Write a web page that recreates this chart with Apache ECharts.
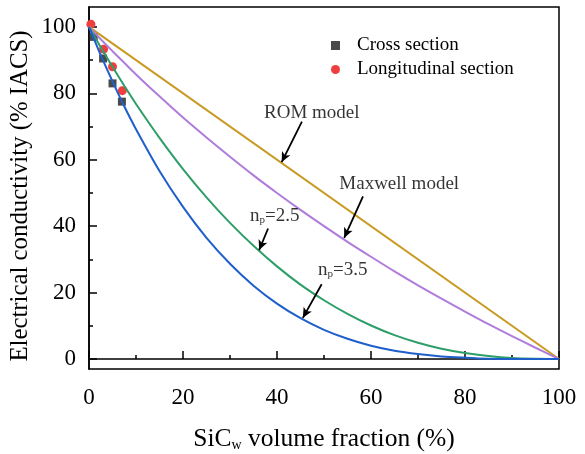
<!DOCTYPE html>
<html>
<head>
<meta charset="utf-8">
<script src="https://cdn.jsdelivr.net/npm/echarts@6/dist/echarts.min.js"></script>
<style>html,body{margin:0;padding:0;background:#fff;}#c{width:585px;height:454px;}</style>
</head>
<body>
<div id="c"></div>
<script>
// x positions (SiCw volume fraction, %) for model curves
var xModel = [0,2.5,5,7.5,10,15,20,25,30,35,40,45,50,55,60,65,70,75,80,85,90,95,100];
var romX = [0,100];
var romY = [100,0];
var maxwellY = [100,96.3,92.7,89.2,85.7,79.1,72.7,66.7,60.9,55.3,50,44.9,40,35.3,30.8,26.4,22.2,18.2,14.3,10.5,6.9,3.4,0];
var np25Y = [100,93.9,88.0,82.3,76.8,66.6,57.2,48.7,41.0,34.1,27.9,22.4,17.7,13.6,10.1,7.2,4.9,3.1,1.8,0.9,0.3,0.06,0];
var np35Y = [100,91.5,83.6,76.1,69.2,56.6,45.8,36.5,28.7,22.1,16.7,12.3,8.8,6.1,4.0,2.5,1.5,0.8,0.4,0.1,0,0,0];
// measured points
var crossX = [1,3,5,7];
var crossY = [97.0,90.5,83.0,77.5];
var longX = [0.4,3.1,5.0,7.1];
var longY = [100.8,93.3,88.0,80.8];
// tick labels
var xTicks = [0,20,40,60,80,100];
var yTicks = [0,20,40,60,80,100];
var yMinorTicks = [10,30,50,70,90];
// annotations
var annNames = ['ROM model','Maxwell model','np=2.5','np=3.5'];
var annLabelX = [47.4,66.0,39.5,54.0];
var annLabelY = [74.0,52.6,43.0,26.8];
var annStartX = [45.3,58.3,38.1,49.5];
var annStartY = [71.5,49.0,39.3,22.5];
var annTipX = [41.0,54.3,36.2,45.5];
var annTipY = [59.3,36.5,32.8,12.4];

function zip(xs, ys){ return xs.map(function(x,i){ return [x, ys[i]]; }); }

var FONT = "'Liberation Serif','Times New Roman',serif";
var chart = echarts.init(document.getElementById('c'), null, {renderer:'canvas'});

var annData = annNames.map(function(n,i){ return {name:n, value:[annLabelX[i], annLabelY[i]]}; });
var arrowData = annNames.map(function(n,i){
  return [{coord:[annStartX[i], annStartY[i]]},{coord:[annTipX[i], annTipY[i]]}];
});

var option = {
  animation: false,
  backgroundColor: '#fff',
  grid: {left: 89, right: 26, top: 7, bottom: 85, containLabel: false, outerBoundsMode: 'none',
    show: true, borderColor: '#000', borderWidth: 1.5, backgroundColor: 'transparent'},
  legend: {
    data: [{name:'Cross section', icon:'rect'}, {name:'Longitudinal section', icon:'circle'}],
    orient: 'vertical', left: 326, top: 31, itemWidth: 9, itemHeight: 9, itemGap: 5,
    textStyle: {fontFamily: FONT, fontSize: 19, color: '#000', padding: [0,0,0,12]}
  },
  xAxis: {
    type: 'value', min: 0, max: 100, interval: 20,
    axisLine: {show: true, lineStyle: {color: '#000', width: 1.5}},
    axisTick: {show: true, inside: true, length: 8, lineStyle: {color: '#000', width: 1.5}},
    minorTick: {show: true, splitNumber: 2, length: 4, lineStyle: {color: '#000', width: 1.5}},
    axisLabel: {fontFamily: FONT, fontSize: 23, color: '#000', margin: 17,
      formatter: function(v){ return xTicks.indexOf(v) >= 0 ? String(v) : ''; }},
    splitLine: {show: false},
    name: '{a|SiC}{s|w}{a| volume fraction (%)}',
    nameLocation: 'middle', nameGap: 57, nameMoveOverlap: false,
    nameTextStyle: {fontFamily: FONT, fontSize: 25.5, color: '#000',
      rich: {a: {fontFamily: FONT, fontSize: 25.5, color: '#000'}, s: {fontFamily: FONT, fontSize: 14, color: '#000', verticalAlign: 'bottom', padding:[9,0,0,0]}}}
  },
  yAxis: [{
    type: 'value', min: -3, max: 106,
    axisLine: {show: true, lineStyle: {color: '#000', width: 1.5}},
    axisTick: {show: true, inside: true, length: 8, customValues: yTicks, lineStyle: {color: '#000', width: 1.5}},
    axisLabel: {fontFamily: FONT, fontSize: 23, color: '#000', margin: 13, customValues: yTicks},
    splitLine: {show: false},
    name: 'Electrical conductivity (% IACS)',
    nameLocation: 'middle', nameGap: 56, nameMoveOverlap: false,
    nameTextStyle: {fontFamily: FONT, fontSize: 24.8, color: '#000', padding: [0,16,0,0]}
  }, {
    type: 'value', min: -3, max: 106, position: 'left',
    axisLine: {show: false},
    axisTick: {show: true, inside: true, length: 4, customValues: yMinorTicks, lineStyle: {color: '#000', width: 1.5}},
    axisLabel: {show: false},
    splitLine: {show: false}
  }],
  series: [
    {name:'Cross section', type:'scatter', symbol:'rect', symbolSize: 8, itemStyle:{color:'#4a4a4a', opacity: 1}, data: zip(crossX, crossY), z: 2},
    {name:'Longitudinal section', type:'scatter', symbol:'circle', symbolSize: 9, itemStyle:{color:'#ef3e3e', opacity: 1}, data: zip(longX, longY), z: 2},
    {name:'ROM', type:'line', showSymbol:false, symbol:'none', lineStyle:{color:'#c99a22', width:2}, data: zip(romX, romY), z: 3},
    {name:'Maxwell', type:'line', showSymbol:false, symbol:'none', smooth: 0.3, lineStyle:{color:'#b07cdc', width:2}, data: zip(xModel, maxwellY), z: 3},
    {name:'np2.5', type:'line', showSymbol:false, symbol:'none', smooth: 0.3, lineStyle:{color:'#2e9e68', width:2}, data: zip(xModel, np25Y), z: 3},
    {name:'np3.5', type:'line', showSymbol:false, symbol:'none', smooth: 0.3, lineStyle:{color:'#1f5fcc', width:2}, data: zip(xModel, np35Y), z: 3},
    {name:'ann', type:'scatter', symbolSize: 0, silent: true, z: 5,
      data: annData,
      label: {show: true, position: 'inside', color:'#000', fontFamily: FONT, fontSize: 19,
        formatter: function(p){
          var n = p.name;
          if (n.indexOf('np=') === 0) return '{a|n}{s|p}{a|' + n.slice(2) + '}';
          return '{a|' + n + '}';
        },
        rich: {a:{fontFamily: FONT, fontSize: 19, color:'#000'}, s:{fontFamily: FONT, fontSize: 11, color:'#000', verticalAlign:'bottom', padding:[7,0,0,0]}}
      },
      markLine: {silent: true, symbol: ['none','arrow'], symbolSize: [7,10], label:{show:false},
        lineStyle:{color:'#000', width:1.8, type:'solid'}, data: arrowData}
    }
  ]
};
chart.setOption(option);
</script>
</body>
</html>
